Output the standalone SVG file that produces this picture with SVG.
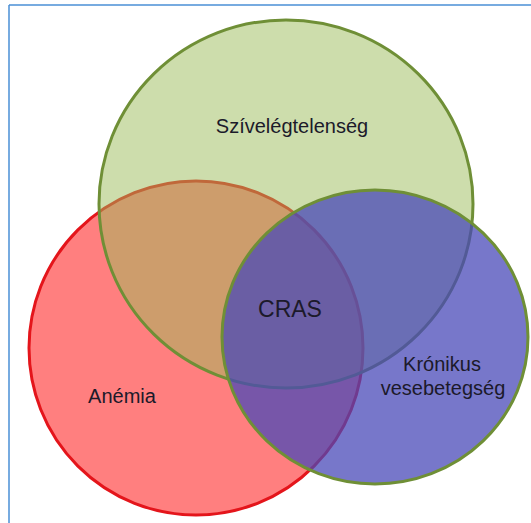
<svg xmlns="http://www.w3.org/2000/svg" width="531" height="523" viewBox="0 0 531 523">
  <style>
    .lbl { font-family: "Liberation Sans", "Open Sans", sans-serif; fill: #1c1a2a; text-anchor: middle; font-size: 20px; }
    .big { font-size: 23px; }
    .ring { stroke-width: 3; }
  </style>
  <rect x="0" y="0" width="531" height="523" fill="#ffffff"/>
  <g id="frame">
    <line x1="9" y1="5" x2="531" y2="5" stroke="#4a8fd6" stroke-width="1.5"/>
    <line x1="9" y1="5" x2="9" y2="523" stroke="#4a8fd6" stroke-width="1.5"/>
  </g>
  <g id="connectors"></g>
  <g id="anemia">
    <circle class="ring" cx="196" cy="348" r="167" fill="#ff0000" fill-opacity="0.5" stroke="#e4151b"/>
  </g>
  <g id="szivelegtelenseg">
    <ellipse class="ring" cx="286" cy="204" rx="187" ry="184" fill="#9bbb59" fill-opacity="0.5" stroke="#6f8f36"/>
  </g>
  <g id="vesebetegseg">
    <ellipse class="ring" cx="375" cy="337" rx="153" ry="147" fill="#4848b8" fill-opacity="0.74" stroke="#6f8f36"/>
  </g>
  <g id="labels">
    <text class="lbl" x="292" y="133">Szívelégtelenség</text>
    <text class="lbl big" x="290" y="317">CRAS</text>
    <text class="lbl" x="442" y="371">Krónikus</text>
    <text class="lbl" x="443" y="395">vesebetegség</text>
    <text class="lbl" x="122" y="403">Anémia</text>
  </g>
</svg>
